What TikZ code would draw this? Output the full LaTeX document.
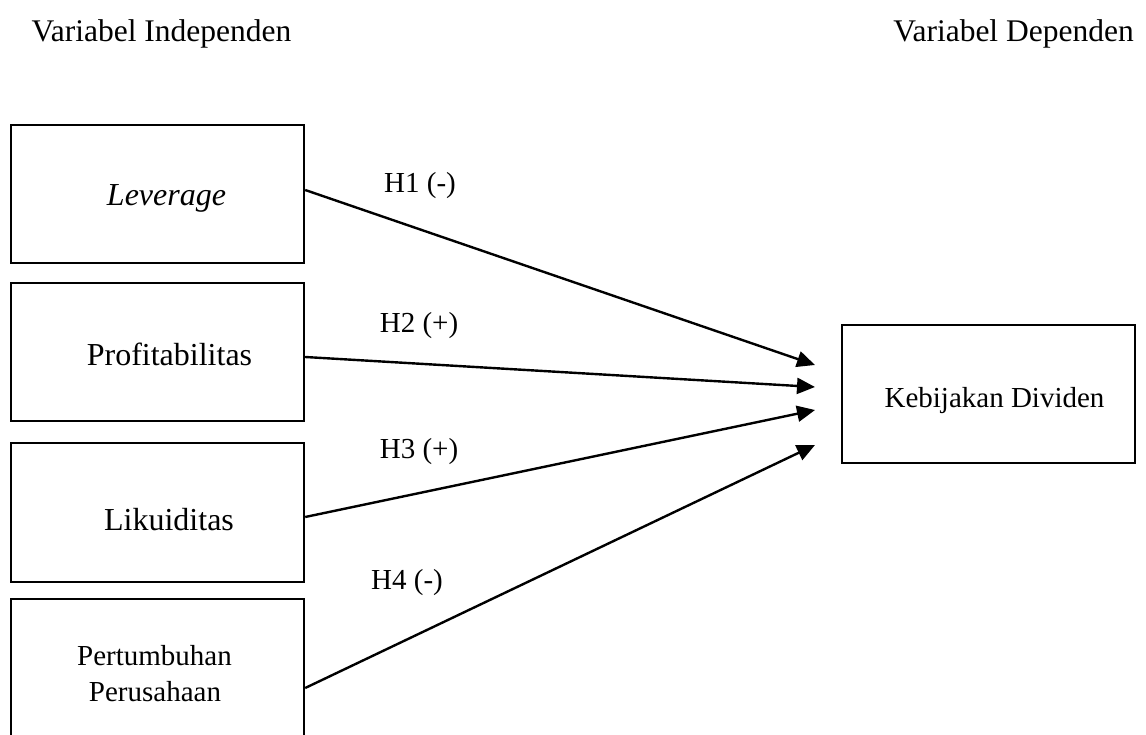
\documentclass[tikz,border=0pt]{standalone}
\usepackage{fontspec}
\setmainfont{Liberation Serif}
\usetikzlibrary{arrows.meta}
\begin{document}
\begin{tikzpicture}[x=1pt,y=-1pt,
  varbox/.style={draw=black,line width=2.4pt,minimum width=293pt,minimum height=138pt,inner sep=0pt},
  boxtext/.style={inner sep=0pt,anchor=base,font=\fontsize{32}{38}\selectfont},
  smalltext/.style={inner sep=0pt,anchor=base,font=\fontsize{29}{36}\selectfont},
  headtext/.style={inner sep=0pt,anchor=base,font=\fontsize{31.5}{38}\selectfont},
  hyp/.style={inner sep=0pt,anchor=base,font=\fontsize{29}{36}\selectfont},
  link/.style={line width=2.4pt,-{Triangle[length=18pt,width=16pt]}}]
\clip (0,0) rectangle (1146,735);
\fill[white] (0,0) rectangle (1146,735);

% headings
\node[headtext] (hind) at (161.5,42) {Variabel Independen};
\node[headtext] (hdep) at (1013.5,42) {Variabel Dependen};

% boxes
\node[varbox] (lev) at (157.5,194) {};
\node[varbox] (prof) at (157.5,352) {};
\node[varbox,minimum height=139pt] (lik) at (157.5,512.5) {};
\node[varbox] (pert) at (157.5,668) {};
\node[varbox] (kd) at (988.5,394) {};

% box texts
\node[boxtext] (levT) at (166.5,206) {\itshape Leverage};
\node[boxtext] (profT) at (169.5,366) {Profitabilitas};
\node[boxtext] (likT) at (169,530) {Likuiditas};
\node[smalltext] (pertT1) at (154.5,665) {Pertumbuhan};
\node[smalltext] (pertT2) at (155,701) {Perusahaan};
\node[smalltext] (kdT) at (994.5,407) {Kebijakan Dividen};

% arrow targets
\coordinate (t1) at (815,365);
\coordinate (t2) at (815,387);
\coordinate (t3) at (815,410);
\coordinate (t4) at (815,445);

% connectors
\draw[link] ([yshift=4pt]lev.east) -- (t1);
\draw[link] ([yshift=-5pt]prof.east) -- (t2);
\draw[link] ([yshift=-4.5pt]lik.east) -- (t3);
\draw[link] ([yshift=-20pt]pert.east) -- (t4);

% hypothesis labels
\node[hyp] (h1) at (420,193) {H1 (-)};
\node[hyp] (h2) at (419,333) {H2 (+)};
\node[hyp] (h3) at (419,458) {H3 (+)};
\node[hyp] (h4) at (407,589) {H4 (-)};
\end{tikzpicture}
\end{document}
